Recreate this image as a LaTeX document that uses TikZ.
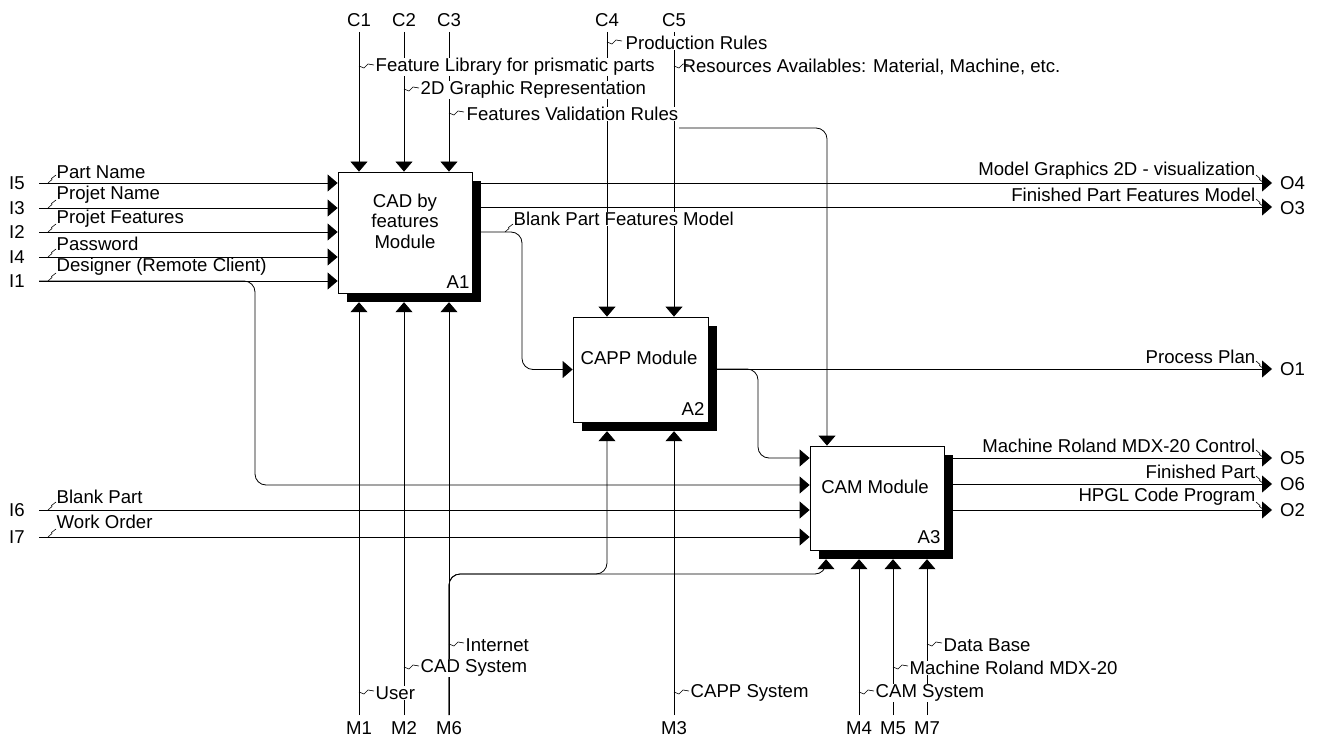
\documentclass[tikz,border=0pt]{standalone}
\usepackage{fontspec}
\setmainfont{Liberation Sans}
\usetikzlibrary{arrows.meta}
\newcommand\LblFont{\fontsize{18.6}{20.5}\selectfont}
\newcommand\SqC[1]{\draw[sq] (#1) -- ++(5,2) -- ++(4,-4) -- ++(6,1);}
\newcommand\SqI[1]{\draw[sq] (#1) -- ++(4,-3.5) -- ++(-0.5,-1) -- ++(4.5,-3.5);}
\newcommand\SqO[1]{\draw[sq] (#1) -- ++(4,3.5) -- ++(-0.5,1) -- ++(4.5,3.5);}
\begin{document}
\begin{tikzpicture}[x=1pt,y=-1pt,
  ln/.style={line width=0.8pt},
  arr/.style={ln,-{Triangle[width=17pt,length=10pt]}},
  rc/.style={rounded corners=11pt},
  sq/.style={line width=0.6pt},
  lbl/.style={font=\LblFont,inner sep=0.5pt,fill=white},
  tag/.style={font=\LblFont,inner sep=0pt},
  box/.style={draw,line width=0.8pt,fill=white,inner sep=0pt},
  shd/.style={fill=black,inner sep=0pt},
]
\fill[white] (0,0) rectangle (1319,738);
\useasboundingbox (0,0) rectangle (1319,738);

% ---------- boxes ----------
\node[shd,minimum width=134pt,minimum height=121pt] (a1sh) at (414,241.5) {};
\node[box,minimum width=134pt,minimum height=121pt] (a1) at (405,232.5) {};
\node[shd,minimum width=135pt,minimum height=105pt] (a2sh) at (649.5,378.5) {};
\node[box,minimum width=135pt,minimum height=105pt] (a2) at (640.5,369.5) {};
\node[shd,minimum width=134pt,minimum height=104pt] (a3sh) at (886,507) {};
\node[box,minimum width=134pt,minimum height=104pt] (a3) at (877,498) {};

\node[tag,align=center] (a1t) at (405,221) {CAD by\\features\\Module};
\node[tag] (a1n) at (458,282) {A1};
\node[tag] (a2t) at (639,358) {CAPP Module};
\node[tag] (a2n) at (693,409) {A2};
\node[tag] (a3t) at (875,487) {CAM Module};
\node[tag] (a3n) at (929,537) {A3};

% ---------- coordinates ----------
\coordinate (i5s) at (39,183);
\coordinate (i3s) at (39,208);
\coordinate (i2s) at (39,232);
\coordinate (i4s) at (39,257);
\coordinate (i1s) at (39,281);
\coordinate (i6s) at (39,510);
\coordinate (i7s) at (39,537);
\coordinate (c1s) at (359,32);
\coordinate (c2s) at (404,32);
\coordinate (c3s) at (449,32);
\coordinate (c4s) at (607,32);
\coordinate (c5s) at (674,32);
\coordinate (m1s) at (359,715);
\coordinate (m2s) at (404,715);
\coordinate (m6s) at (449,715);
\coordinate (m3s) at (674,715);
\coordinate (m4s) at (859,715);
\coordinate (m5s) at (893,715);
\coordinate (m7s) at (927,715);
\coordinate (o4e) at (1272,183);
\coordinate (o3e) at (1272,207);
\coordinate (o1e) at (1272,369);
\coordinate (o5e) at (1272,458);
\coordinate (o6e) at (1272,484);
\coordinate (o2e) at (1272,510);
\coordinate (i1j) at (255,485);
\coordinate (bpj) at (522,232);
\coordinate (ppj) at (758,458);
\coordinate (vrj) at (827,128);
\coordinate (m6j) at (449,574);
\coordinate (m6a) at (607,574);
\coordinate (m6b) at (826,574);

% ---------- A1 connectors ----------
\draw[arr] (i5s) -- (i5s -| a1.west);
\draw[arr] (i3s) -- (i3s -| a1.west);
\draw[arr] (i2s) -- (i2s -| a1.west);
\draw[arr] (i4s) -- (i4s -| a1.west);
\draw[arr] (i1s) -- (i1s -| a1.west);
\draw[arr] (c1s) -- (c1s |- a1.north);
\draw[arr] (c2s) -- (c2s |- a1.north);
\draw[arr] (c3s) -- (c3s |- a1.north);
\draw[arr] (m1s) -- (m1s |- a1sh.south);
\draw[arr] (m2s) -- (m2s |- a1sh.south);
\draw[arr] (m6s) -- (m6s |- a1sh.south);
\draw[arr] (o4e -| a1sh.east) -- (o4e);
\draw[arr] (o3e -| a1sh.east) -- (o3e);
\draw[arr,rc] (bpj -| a1sh.east) -- (bpj) -- (bpj |- a2.west) -- (a2.west);

% ---------- A2 connectors ----------
\draw[arr] (c4s) -- (c4s |- a2.north);
\draw[arr] (c5s) -- (c5s |- a2.north);
\draw[arr] (m3s) -- (m3s |- a2sh.south);
\draw[arr,rc] (m6s) -- (m6j) -- (m6a) -- (m6a |- a2sh.south);
\draw[arr] (o1e -| a2sh.east) -- (o1e);
\draw[arr,rc] (o1e -| a2sh.east) -- (o1e -| ppj) -- (ppj) -- (ppj -| a3.west);

% ---------- A3 connectors ----------
\draw[arr,rc] (i1s) -- (i1s -| i1j) -- (i1j) -- (i1j -| a3.west);
\draw[arr] (i6s) -- (i6s -| a3.west);
\draw[arr] (i7s) -- (i7s -| a3.west);
\draw[arr,rc] (m6s) -- (m6j) -- (m6b) -- (m6b |- a3sh.south);
\draw[arr] (m4s) -- (m4s |- a3sh.south);
\draw[arr] (m5s) -- (m5s |- a3sh.south);
\draw[arr] (m7s) -- (m7s |- a3sh.south);
\draw[arr] (o5e -| a3sh.east) -- (o5e);
\draw[arr] (o6e -| a3sh.east) -- (o6e);
\draw[arr] (o2e -| a3sh.east) -- (o2e);

% ---------- arrow labels ----------
\node[lbl,anchor=west] (lc1) at (375,67) {Feature Library for prismatic parts};
\node[lbl,anchor=west] (lc2) at (420,90) {2D Graphic Representation};
\node[lbl,anchor=west] (fvr) at (466,114) {Features Validation Rules};
\node[lbl,anchor=west] (lc4) at (625,43) {Production Rules};
\node[lbl,anchor=west] (lc5) at (682,67) {Resources Availables: Material, Machine, etc.};
\draw[arr,rc] (vrj -| fvr.east) -- (vrj) -- (vrj |- a3.north);

\node[lbl,anchor=west] (li5) at (56,172) {Part Name};
\node[lbl,anchor=west] (li3) at (56,195) {Projet Name};
\node[lbl,anchor=west] (li2) at (56,219) {Projet Features};
\node[lbl,anchor=west] (li4) at (56,244) {Password};
\node[lbl,anchor=west] (li1) at (56,267) {Designer (Remote Client)};
\node[lbl,anchor=west] (li6) at (56,497) {Blank Part};
\node[lbl,anchor=west] (li7) at (56,522) {Work Order};
\node[lbl,anchor=west] (lbp) at (513,219) {Blank Part Features Model};

\node[lbl,anchor=east] (lo4) at (1256,171) {Model Graphics 2D - visualization};
\node[lbl,anchor=east] (lo3) at (1256,195) {Finished Part Features Model};
\node[lbl,anchor=east] (lo1) at (1256,357) {Process Plan};
\node[lbl,anchor=east] (lo5) at (1256,446) {Machine Roland MDX-20 Control};
\node[lbl,anchor=east] (lo6) at (1256,472) {Finished Part};
\node[lbl,anchor=east] (lo2) at (1256,497) {HPGL Code Program};

\node[lbl,anchor=west] (lm1) at (375,693) {User};
\node[lbl,anchor=west] (lm2) at (420,668) {CAD System};
\node[lbl,anchor=west] (lm6) at (465,645) {Internet};
\node[lbl,anchor=west] (lm3) at (690,693) {CAPP System};
\node[lbl,anchor=west] (lm4) at (875,693) {CAM System};
\node[lbl,anchor=west] (lm5) at (909,668) {Machine Roland MDX-20};
\node[lbl,anchor=west] (lm7) at (943,645) {Data Base};

% ---------- squiggles ----------
\SqC{359,66}
\SqC{404,89}
\SqC{449,113}
\SqC{607,42}
\SqC{674,66}
\SqC{359,692}
\SqC{404,667}
\SqC{449,644}
\SqC{674,692}
\SqC{859,692}
\SqC{893,667}
\SqC{927,644}
\SqI{48,183}
\SqI{48,208}
\SqI{48,232}
\SqI{48,257}
\SqI{48,281}
\SqI{48,510}
\SqI{48,537}
\SqI{505,232}
\SqO{1256,175}
\SqO{1256,199}
\SqO{1256,361}
\SqO{1256,450}
\SqO{1256,476}
\SqO{1256,502}

% ---------- ICOM tags ----------
\node[tag] (tc1) at (359,20) {C1};
\node[tag] (tc2) at (404,20) {C2};
\node[tag] (tc3) at (449,20) {C3};
\node[tag] (tc4) at (607,20) {C4};
\node[tag] (tc5) at (674,20) {C5};
\node[tag,anchor=west] (ti5) at (9,183) {I5};
\node[tag,anchor=west] (ti3) at (9,208) {I3};
\node[tag,anchor=west] (ti2) at (9,232) {I2};
\node[tag,anchor=west] (ti4) at (9,257) {I4};
\node[tag,anchor=west] (ti1) at (9,281) {I1};
\node[tag,anchor=west] (ti6) at (9,510) {I6};
\node[tag,anchor=west] (ti7) at (9,537) {I7};
\node[tag,anchor=west] (to4) at (1280,183) {O4};
\node[tag,anchor=west] (to3) at (1280,208) {O3};
\node[tag,anchor=west] (to1) at (1280,369) {O1};
\node[tag,anchor=west] (to5) at (1280,458) {O5};
\node[tag,anchor=west] (to6) at (1280,484) {O6};
\node[tag,anchor=west] (to2) at (1280,510) {O2};
\node[tag] (tm1) at (359,728) {M1};
\node[tag] (tm2) at (404,728) {M2};
\node[tag] (tm6) at (449,728) {M6};
\node[tag] (tm3) at (674,728) {M3};
\node[tag] (tm4) at (859,728) {M4};
\node[tag] (tm5) at (893,728) {M5};
\node[tag] (tm7) at (927,728) {M7};
\end{tikzpicture}
\end{document}
